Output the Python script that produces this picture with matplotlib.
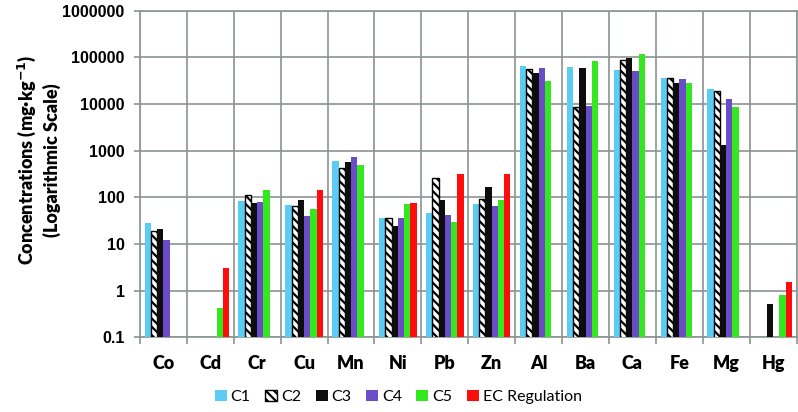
import numpy as np
import matplotlib
matplotlib.use("Agg")
import matplotlib.pyplot as plt
from matplotlib.ticker import FixedLocator, NullFormatter, FixedFormatter

elements = ["Co", "Cd", "Cr", "Cu", "Mn", "Ni", "Pb", "Zn", "Al", "Ba", "Ca", "Fe", "Mg", "Hg"]
nan = np.nan
c1 = [28, nan, 84, 68, 600, 36.5, 47, 72, 65000, 63000, 53000, 37000, 20600, nan]
c2 = [19, nan, 112, 66, 420, 35.5, 255, 92, 57000, 8700, 87500, 35400, 19200, nan]
c3 = [20.5, nan, 74, 87, 580, 24.7, 87, 164, 45400, 60000, 98000, 28600, 1320, 0.52]
c4 = [12.2, nan, 80, 40, 720, 36.5, 42, 65, 60000, 9000, 51000, 34300, 12600, nan]
c5 = [nan, 0.42, 143, 55, 485, 72, 29, 87, 31500, 84500, 119000, 27700, 8500, 0.8]
ec = [nan, 3.1, nan, 143, nan, 77, 310, 310, nan, nan, nan, nan, nan, 1.55]

series = [("C1", c1), ("C2", c2), ("C3", c3), ("C4", c4), ("C5", c5), ("EC Regulation", ec)]
colors = ["#5bcdf5", "white", "#0d0d0d", "#6a4cc6", "#33e81e", "#ff0d0d"]

plt.rcParams["hatch.linewidth"] = 1.6
font = "Lato"
grid_c = "#8c9494"

fig = plt.figure(figsize=(7.98, 4.12), dpi=100)
ax = fig.add_axes([0.1754, 0.1813, 0.8228, 0.7927])

x = np.arange(len(elements))
bw = 0.8 / 6
for i, ((name, vals), col) in enumerate(zip(series, colors)):
    pos = x - 0.4 + bw * (i + 0.5)
    if name == "C2":
        ax.bar(pos, vals, bw, color="white", edgecolor="black", hatch="\\\\\\\\",
               linewidth=1.0, label=name, zorder=3)
    else:
        ax.bar(pos, vals, bw, color=col, label=name, zorder=3, linewidth=0)

ax.set_yscale("log")
ax.set_ylim(0.1, 1000000)
ax.set_xlim(-0.5, len(elements) - 0.5)

yt = [0.1, 1, 10, 100, 1000, 10000, 100000, 1000000]
ax.yaxis.set_major_locator(FixedLocator(yt))
ax.yaxis.set_major_formatter(FixedFormatter(["0.1", "1", "10", "100", "1000", "10000", "100000", "1000000"]))
ax.yaxis.set_minor_locator(FixedLocator([]))

ax.xaxis.set_major_locator(FixedLocator(np.arange(len(elements) + 1) - 0.5))
ax.xaxis.set_major_formatter(NullFormatter())
ax.xaxis.set_minor_locator(FixedLocator(x))
ax.xaxis.set_minor_formatter(FixedFormatter(elements))

ax.grid(True, which="major", color=grid_c, linewidth=1.2, zorder=0)
ax.set_axisbelow(True)
for s in ax.spines.values():
    s.set_color(grid_c)
    s.set_linewidth(1.2)

ax.tick_params(axis="x", which="major", length=5, color=grid_c, width=1.2)
ax.tick_params(axis="x", which="minor", length=0, pad=12.5)
ax.tick_params(axis="y", which="major", length=4, color=grid_c, width=1.2, pad=7)
for lab in ax.get_xticklabels(minor=True):
    lab.set_fontfamily(font)
    lab.set_fontweight("heavy")
    lab.set_fontsize(13)
for lab in ax.get_yticklabels():
    lab.set_fontfamily("Liberation Sans")
    lab.set_fontweight("bold")
    lab.set_fontsize(11.5)

fig.text(0.048, 0.612, "Concentrations (mg·kg$^{\\mathbf{-1}}$)\n(Logarithmic Scale)",
         rotation=90, ha="center", va="center", multialignment="center",
         fontfamily=font, fontweight="heavy", fontsize=13, linespacing=1.35)

handles, labels = ax.get_legend_handles_labels()
fig.legend(handles, labels, loc="center", bbox_to_anchor=(0.499, 0.037), ncol=6, frameon=False,
           handlelength=0.75, handleheight=0.75, handletextpad=0.25, columnspacing=0.9,
           prop={"family": font, "size": 11.5})

fig.savefig("out.png", dpi=100)
